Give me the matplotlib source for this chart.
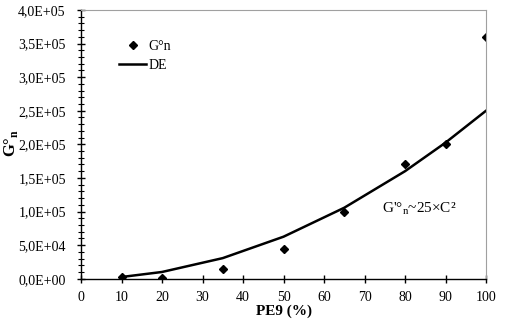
import matplotlib
matplotlib.use("Agg")
import matplotlib.pyplot as plt
from matplotlib.ticker import MultipleLocator, FuncFormatter

plt.rcParams['font.family'] = ['Liberation Serif', 'DejaVu Serif']
plt.rcParams['mathtext.fontset'] = 'custom'
plt.rcParams['mathtext.rm'] = 'Liberation Serif'
plt.rcParams['mathtext.bf'] = 'Liberation Serif:bold'

# measured G'°n values
pe9 = [10, 20, 35, 50, 65, 80, 90, 100]
g_meas = [3000, 1000, 14000, 44000, 100000, 170000, 200000, 360000]
# DE fit curve, G'°n ~ 25 x C^2
g_fit = [2500, 10000, 30625, 62500, 105625, 160000, 202500, 250000]

x_ticks = list(range(0, 101, 10))


def sci_fmt(v, pos):
    s = "%.1E" % v
    return s.replace(".", ",")


fig = plt.figure(figsize=(5.07, 3.22), dpi=100)
ax = fig.add_axes([0.1598, 0.1345, 0.7988, 0.8345])

ax.plot(pe9, g_meas, 'D', color='black', markersize=4, label="G°n")
ax.plot(pe9, g_fit, '-', color='black', linewidth=1.8, label="DE")

ax.set_xlim(0, 100)
ax.set_ylim(0, 4e5)
ax.set_xticks(x_ticks)
ax.yaxis.set_major_locator(MultipleLocator(5e4))
ax.yaxis.set_minor_locator(MultipleLocator(1e4))
ax.yaxis.set_major_formatter(FuncFormatter(sci_fmt))
ax.tick_params(axis='both', which='major', direction='inout', length=6, width=1, labelsize=10)
ax.tick_params(axis='y', which='major', pad=8)
ax.tick_params(axis='y', which='minor', direction='inout', length=4, width=0.8)
ax.tick_params(axis='x', pad=6)

for s in ['top', 'right']:
    ax.spines[s].set_color('#a0a0a0')
for s in ['left', 'bottom']:
    ax.spines[s].set_color('black')
    ax.spines[s].set_linewidth(1)

ax.set_xlabel("PE9 (%)", fontsize=11, fontweight='bold', labelpad=0)
ax.set_ylabel(r"G°$_\mathbf{n}$", fontsize=12, fontweight='bold')
ax.yaxis.set_label_coords(-0.15, 0.505)

ax.text(74.2, 1.05e5, r"G'°$_\mathregular{n}$~25×C²", fontsize=11, ha='left', va='center')

leg = ax.legend(loc='upper left', bbox_to_anchor=(0.064, 0.935), frameon=False, fontsize=10,
                handlelength=1.9, labelspacing=0.45, handletextpad=0.2)

fig.savefig("out.png", dpi=100)
